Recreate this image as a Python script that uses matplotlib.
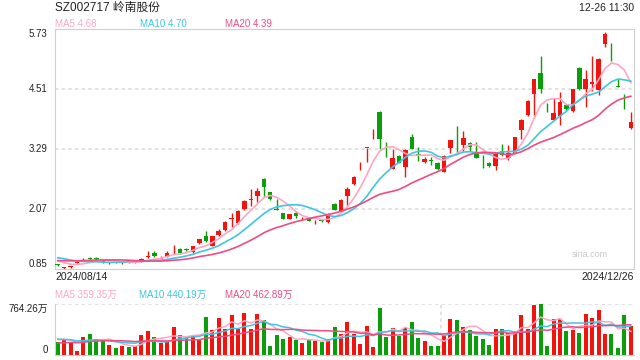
import matplotlib
matplotlib.use("Agg")
import matplotlib.pyplot as plt
import numpy as np
import pandas as pd

plt.rcParams['font.family'] = ['Liberation Sans', 'Noto Sans CJK SC', 'DejaVu Sans']

# daily candles 2024/08/14 .. 2024/12/26
opens = [0.95, 0.87, 0.89, 0.98, 1.05, 1.07, 1.07, 1.01, 0.97, 0.99,
         0.97, 1.00, 0.97, 1.00, 1.10, 1.17, 1.06, 1.10, 1.23, 1.25,
         1.25, 1.20, 1.37, 1.52, 1.32, 1.54, 1.64, 1.87, 1.79, 2.06,
         2.26, 2.34, 2.68, 2.41, 2.06, 1.98, 1.87, 1.99, 1.86, 1.88,
         1.80, 1.84, 1.81, 2.17, 2.01, 2.34, 2.58, 3.02, 3.31, 3.65,
         4.04, 3.13, 2.89, 3.15, 2.93, 3.54, 3.19, 3.03, 3.06, 3.01,
         2.83, 3.32, 3.44, 3.37, 3.42, 3.20, 3.03, 3.01, 2.94, 3.25,
         3.10, 3.21, 3.68, 3.98, 4.41, 4.84, 4.07, 3.88, 3.97, 4.18,
         4.07, 4.93, 4.50, 4.61, 4.49, 5.42, 5.08, 4.57, 4.11, 3.72]
closes = [0.94, 0.89, 0.90, 0.99, 1.06, 1.06, 1.06, 1.00, 0.98, 0.98,
          0.98, 0.99, 0.98, 1.06, 1.11, 1.11, 1.07, 1.18, 1.24, 1.18,
          1.24, 1.31, 1.46, 1.41, 1.52, 1.63, 1.81, 1.88, 2.03, 2.23,
          2.27, 2.44, 2.52, 2.27, 2.05, 1.87, 1.96, 1.93, 1.87, 1.83,
          1.81, 1.83, 1.96, 2.05, 2.25, 2.48, 2.73, 3.03, 3.32, 3.66,
          3.49, 3.12, 3.10, 3.01, 3.27, 3.30, 3.14, 3.09, 3.05, 2.88,
          3.15, 3.47, 3.43, 3.51, 3.33, 3.11, 3.02, 2.94, 3.19, 3.16,
          3.21, 3.53, 3.88, 4.27, 4.71, 4.52, 4.06, 4.02, 4.25, 4.11,
          4.50, 4.51, 4.71, 4.66, 5.12, 5.63, 5.07, 4.56, 4.10, 3.83]
highs = [0.96, 0.90, 0.92, 0.99, 1.08, 1.09, 1.09, 1.02, 1.00, 0.99,
         1.00, 1.00, 0.99, 1.08, 1.22, 1.22, 1.12, 1.21, 1.33, 1.27,
         1.27, 1.32, 1.47, 1.63, 1.53, 1.66, 1.83, 1.99, 2.04, 2.25,
         2.47, 2.49, 2.70, 2.42, 2.27, 1.99, 1.97, 2.02, 1.90, 1.89,
         1.84, 1.85, 1.98, 2.19, 2.27, 2.52, 2.75, 3.03, 3.32, 3.70,
         4.06, 3.43, 3.28, 3.16, 3.28, 3.59, 3.33, 3.13, 3.13, 3.02,
         3.17, 3.48, 3.76, 3.66, 3.44, 3.44, 3.16, 3.03, 3.21, 3.39,
         3.37, 3.54, 3.89, 4.29, 4.72, 5.18, 4.22, 4.33, 4.45, 4.20,
         4.52, 4.95, 4.90, 5.19, 5.14, 5.66, 5.44, 4.71, 4.41, 4.05]
lows = [0.92, 0.85, 0.87, 0.98, 1.03, 1.03, 1.04, 0.98, 0.96, 0.97,
        0.96, 0.98, 0.97, 0.99, 1.07, 1.09, 1.05, 1.09, 1.15, 1.15,
        1.21, 1.18, 1.35, 1.40, 1.31, 1.52, 1.62, 1.70, 1.77, 2.05,
        2.13, 2.21, 2.34, 2.26, 2.05, 1.86, 1.86, 1.89, 1.85, 1.82,
        1.77, 1.80, 1.79, 2.04, 2.00, 2.15, 2.56, 2.86, 3.03, 3.49,
        3.30, 3.12, 2.89, 3.00, 2.73, 3.29, 3.05, 3.00, 2.97, 2.87,
        2.82, 3.21, 3.20, 3.24, 3.24, 3.10, 2.90, 2.92, 2.87, 3.15,
        3.07, 3.20, 3.49, 3.97, 3.99, 4.42, 4.05, 3.88, 3.78, 4.09,
        4.05, 4.49, 4.14, 4.46, 4.39, 5.36, 5.07, 4.56, 4.10, 3.70]
# volume in 万 shares
volumes = [199, 235, 180, 65, 270, 320, 245, 210, 150, 110,
           135, 120, 140, 300, 360, 270, 185, 205, 420, 300,
           255, 280, 240, 570, 375, 555, 390, 600, 385, 635,
           385, 620, 525, 135, 300, 240, 270, 230, 185, 225,
           215, 200, 235, 420, 315, 495, 315, 165, 435, 120,
           705, 270, 405, 290, 410, 495, 255, 210, 135, 135,
           295, 540, 525, 420, 375, 285, 240, 150, 390, 390,
           330, 345, 600, 390, 750, 764, 135, 540, 540, 360,
           375, 330, 615, 555, 675, 315, 315, 105, 600, 435]
# closes / volumes of the days before the window, only for the moving averages
pre_close = [0.95, 0.96, 0.97, 0.96, 0.95, 0.96, 0.97, 0.98, 0.97, 0.96,
             1.10, 1.15, 1.18, 1.16, 1.12, 1.08, 1.05, 1.02, 0.99]
pre_vol = [120, 110, 130, 115, 125, 120, 110, 130, 125, 120,
           260, 230, 250, 220, 240, 235, 220, 250, 260]

title = "SZ002717 岭南股份"
stamp = "12-26 11:30"
price_ticks = [5.73, 4.51, 3.29, 2.07, 0.85]
date_start, date_end = "2024/08/14", "2024/12/26"
ma_labels = ["MA5 4.68", "MA10 4.70", "MA20 4.39"]
vol_labels = ["MA5 359.35万", "MA10 440.19万", "MA20 462.89万"]
vol_max = 764.26

RED, GREEN = "#f2140c", "#0a9e0a"
MA_COLORS = ["#ffa5c4", "#3ec6e0", "#ee4c82"]
GRID = "#dcdcdc"
FRAME = "#cfcfcf"

n = len(closes)
x = np.arange(n)
o, c, h, l = map(np.array, (opens, closes, highs, lows))
up = c >= o
colors = np.where(up, RED, GREEN)

cs = pd.Series(pre_close + closes)
vs = pd.Series(pre_vol + volumes)
k = len(pre_close)

fig = plt.figure(figsize=(6.4, 3.6), dpi=100)
ax = fig.add_axes([54.5 / 640, 91 / 360, 579.5 / 640, 240 / 360])
axv = fig.add_axes([54.5 / 640, 5 / 360, 579.5 / 640, 51 / 360])

# price panel
for y in price_ticks[1:-1]:
    ax.axhline(y, color=GRID, lw=1.2, ls=(0, (2, 2)), zorder=0)
ax.vlines(x, l, h, colors=colors, lw=1, zorder=2)
body = np.maximum(np.abs(c - o), 0.012)
ax.bar(x, body, bottom=np.minimum(o, c), width=0.7, color=colors, zorder=3)
for w, col in zip([5, 10, 20], MA_COLORS):
    ma = cs.rolling(w).mean().to_numpy()[k:]
    ax.plot(x, ma, color=col, lw=1.2, zorder=4)
ax.set_xlim(-0.5, n - 0.5)
ax.set_ylim(0.85, 5.73)
ax.set_xticks([])
ax.set_yticks([])
for s in ax.spines.values():
    s.set_color(FRAME)

for y in price_ticks:
    va = "top" if y == price_ticks[0] else ("bottom" if y == price_ticks[-1] else "center")
    ax.text(-0.012, y, f"{y:.2f}", transform=ax.get_yaxis_transform(),
            ha="right", va=va, fontsize=7, color="#222222")
ax.text(0.955, 0.06, "sina.com", transform=ax.transAxes, ha="right",
        va="center", fontsize=6.5, color="#c8c8c8")

# volume panel
axv.axhline(vol_max, color=GRID, lw=1.2, ls=(0, (2, 2)), zorder=0)
axv.axvline(59.5, color=GRID, lw=1.2, ls=(0, (2, 2)), zorder=0)
axv.bar(x, volumes, width=0.62, color=colors, zorder=2)
for w, col in zip([5, 10, 20], MA_COLORS):
    ma = vs.rolling(w).mean().to_numpy()[k:]
    axv.plot(x, ma, color=col, lw=1.1, zorder=3)
axv.set_xlim(-0.5, n - 0.5)
axv.set_ylim(0, vol_max)
axv.set_xticks([])
axv.set_yticks([])
axv.spines["top"].set_visible(False)
axv.spines["right"].set_visible(False)
axv.spines["left"].set_color(FRAME)
axv.spines["bottom"].set_color(FRAME)
axv.text(-0.012, vol_max, "764.26万", transform=axv.get_yaxis_transform(),
         ha="right", va="top", fontsize=7, color="#222222")
axv.text(-0.012, 0, "0", transform=axv.get_yaxis_transform(),
         ha="right", va="bottom", fontsize=7, color="#222222")

# header and footer texts
fig.text(55 / 640, 1 - 8 / 360, title, fontsize=8.5, ha="left", va="center", color="#222222")
fig.text(634 / 640, 1 - 8 / 360, stamp, fontsize=7.5, ha="right", va="center", color="#222222")
for xp, lab, col in zip([55, 140, 225], ma_labels, MA_COLORS):
    fig.text(xp / 640, 1 - 24 / 360, lab, fontsize=7, ha="left", va="center", color=col)
fig.text(55 / 640, 1 - 277 / 360, date_start, fontsize=7.5, ha="left", va="center", color="#222222")
fig.text(634 / 640, 1 - 277 / 360, date_end, fontsize=7.5, ha="right", va="center", color="#222222")
for xp, lab, col in zip([55, 139, 225], vol_labels, MA_COLORS):
    fig.text(xp / 640, 1 - 295 / 360, lab, fontsize=7, ha="left", va="center", color=col)

fig.savefig("out.png", dpi=100)
